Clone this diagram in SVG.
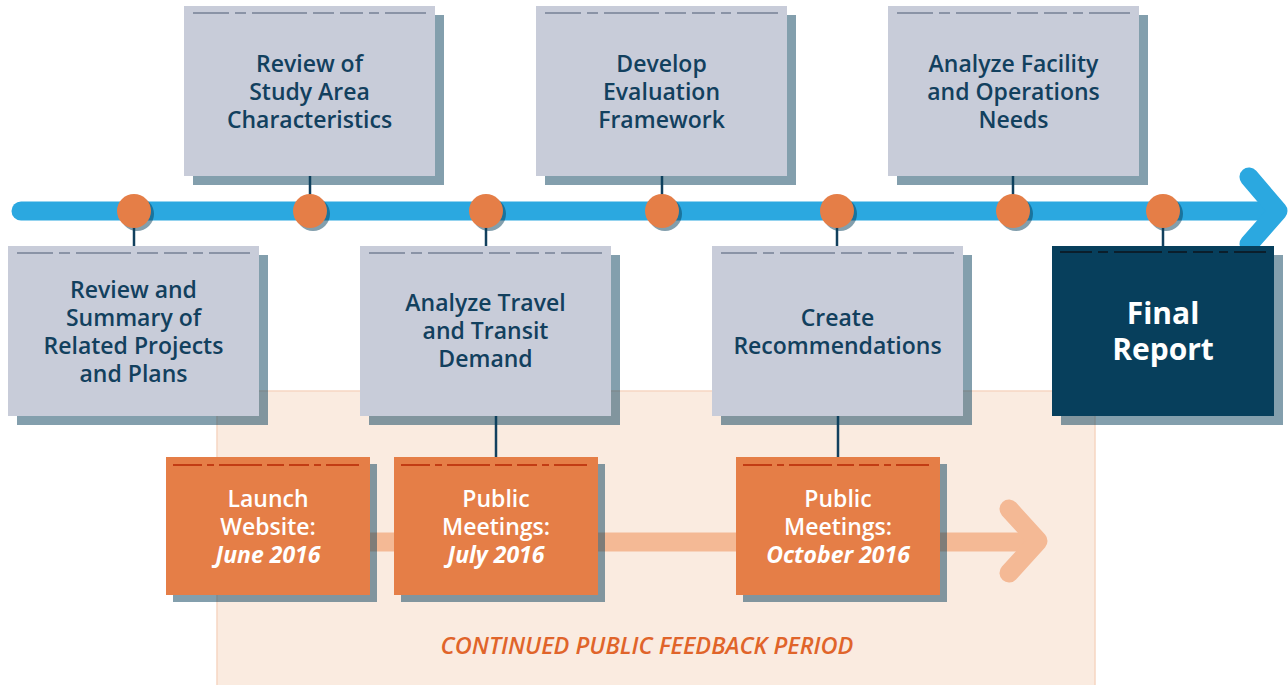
<svg xmlns="http://www.w3.org/2000/svg" width="1288" height="685" viewBox="0 0 1288 685">
<defs>
<style>
.gbox{fill:#C8CCD9}
.shadow{fill:#073F5C;fill-opacity:0.5}
.obox{fill:#E57E47}
.fbox{fill:#073F5C}
.dashg{stroke:#8A93A6;stroke-width:2;stroke-dasharray:36 6 11 6 55 6 21 6 23 6 10 6 41 6;fill:none}
.dashf{stroke:#0B1E2B;stroke-width:2;stroke-dasharray:32 6 10 6 48 6 19 6 20 6 9 6 36 6;fill:none}
.dasho{stroke:#C23C14;stroke-width:2;stroke-dasharray:29 5 7 5 43 5 17 5 20 5 7 5 33 5;fill:none}
.conn{stroke:#12405E;stroke-width:2.5;fill:none}
.dot{fill:#E57E47}
.dotsh{fill:#073F5C;fill-opacity:0.5}
.t{font-family:"Open Sans","Liberation Sans",sans-serif;font-weight:600;font-size:23px;fill:#12405E;text-anchor:middle}
.tw{font-family:"Open Sans","Liberation Sans",sans-serif;font-weight:600;font-size:23px;fill:#FFFFFF;text-anchor:middle}
.bi{font-weight:700;font-style:italic}
.tf{font-family:"Open Sans","Liberation Sans",sans-serif;font-weight:700;font-size:30px;fill:#FFFFFF;text-anchor:middle}
.tp{font-family:"Open Sans","Liberation Sans",sans-serif;font-weight:600;font-style:italic;font-size:23.5px;fill:#E0642A;text-anchor:middle}
</style>
</defs>

<g id="feedback-panel">
<rect x="217" y="391" width="878" height="300" fill="#FAEBE0" stroke="#F6D6C2" stroke-width="1.5"/>
<text class="tp" x="647" y="654">CONTINUED PUBLIC FEEDBACK PERIOD</text>
</g>

<g id="feedback-arrow" stroke="#F4B995" stroke-width="19" fill="none" stroke-linecap="round" stroke-linejoin="round">
<line x1="260" y1="542" x2="1032" y2="542"/>
<polyline points="1009,509 1038,541 1009,573"/>
</g>

<g id="timeline" stroke="#2BA8E0" stroke-width="19" fill="none" stroke-linecap="round" stroke-linejoin="round">
<line x1="21" y1="211" x2="1272" y2="211"/>
<polyline points="1249,177 1278,211 1249,244"/>
</g>

<g id="connectors">
<line class="conn" x1="134" y1="211" x2="134" y2="246"/>
<line class="conn" x1="310" y1="176" x2="310" y2="211"/>
<line class="conn" x1="486" y1="211" x2="486" y2="246"/>
<line class="conn" x1="662" y1="176" x2="662" y2="211"/>
<line class="conn" x1="837" y1="211" x2="837" y2="246"/>
<line class="conn" x1="1013" y1="176" x2="1013" y2="211"/>
<line class="conn" x1="1163" y1="211" x2="1163" y2="246"/>
<line class="conn" x1="496" y1="416" x2="496" y2="457"/>
<line class="conn" x1="838" y1="416" x2="838" y2="457"/>
</g>

<g id="milestones">
<circle class="dotsh" cx="137" cy="214" r="17"/><circle class="dot" cx="134" cy="211" r="17"/>
<circle class="dotsh" cx="313" cy="214" r="17"/><circle class="dot" cx="310" cy="211" r="17"/>
<circle class="dotsh" cx="489" cy="214" r="17"/><circle class="dot" cx="486" cy="211" r="17"/>
<circle class="dotsh" cx="665" cy="214" r="17"/><circle class="dot" cx="662" cy="211" r="17"/>
<circle class="dotsh" cx="840" cy="214" r="17"/><circle class="dot" cx="837" cy="211" r="17"/>
<circle class="dotsh" cx="1016" cy="214" r="17"/><circle class="dot" cx="1013" cy="211" r="17"/>
<circle class="dotsh" cx="1166" cy="214" r="17"/><circle class="dot" cx="1163" cy="211" r="17"/>
</g>

<g id="node-study-area">
<rect class="shadow" x="193" y="15" width="251" height="170"/>
<rect class="gbox" x="184" y="6" width="251" height="170"/>
<line class="dashg" x1="193" y1="13" x2="426" y2="13"/>
<text class="t" x="309.5" y="72">Review of<tspan x="309.5" dy="28">Study Area</tspan><tspan x="309.5" dy="28">Characteristics</tspan></text>
</g>

<g id="node-evaluation">
<rect class="shadow" x="545" y="15" width="251" height="170"/>
<rect class="gbox" x="536" y="6" width="251" height="170"/>
<line class="dashg" x1="545" y1="13" x2="778" y2="13"/>
<text class="t" x="661.5" y="72">Develop<tspan x="661.5" dy="28">Evaluation</tspan><tspan x="661.5" dy="28">Framework</tspan></text>
</g>

<g id="node-facility">
<rect class="shadow" x="897" y="15" width="251" height="170"/>
<rect class="gbox" x="888" y="6" width="251" height="170"/>
<line class="dashg" x1="897" y1="13" x2="1130" y2="13"/>
<text class="t" x="1013.5" y="72">Analyze Facility<tspan x="1013.5" dy="28">and Operations</tspan><tspan x="1013.5" dy="28">Needs</tspan></text>
</g>

<g id="node-related-projects">
<rect class="shadow" x="17" y="255" width="251" height="170"/>
<rect class="gbox" x="8" y="246" width="251" height="170"/>
<line class="dashg" x1="17" y1="253" x2="250" y2="253"/>
<text class="t" x="133.5" y="298">Review and<tspan x="133.5" dy="28">Summary of</tspan><tspan x="133.5" dy="28">Related Projects</tspan><tspan x="133.5" dy="28">and Plans</tspan></text>
</g>

<g id="node-travel-demand">
<rect class="shadow" x="369" y="255" width="251" height="170"/>
<rect class="gbox" x="360" y="246" width="251" height="170"/>
<line class="dashg" x1="369" y1="253" x2="602" y2="253"/>
<text class="t" x="485.5" y="311">Analyze Travel<tspan x="485.5" dy="28">and Transit</tspan><tspan x="485.5" dy="28">Demand</tspan></text>
</g>

<g id="node-recommendations">
<rect class="shadow" x="721" y="255" width="251" height="170"/>
<rect class="gbox" x="712" y="246" width="251" height="170"/>
<line class="dashg" x1="721" y1="253" x2="954" y2="253"/>
<text class="t" x="837.5" y="326">Create<tspan x="837.5" dy="28">Recommendations</tspan></text>
</g>

<g id="node-final-report">
<rect class="shadow" x="1061" y="255" width="222" height="170"/>
<rect class="fbox" x="1052" y="246" width="222" height="170"/>
<line class="dashf" x1="1060" y1="252" x2="1266" y2="252"/>
<text class="tf" x="1163" y="324">Final<tspan x="1163" dy="36">Report</tspan></text>
</g>

<g id="node-launch-website">
<rect class="shadow" x="173" y="464" width="204" height="138"/>
<rect class="obox" x="166" y="457" width="204" height="138"/>
<line class="dasho" x1="173" y1="465" x2="362" y2="465"/>
<text class="tw" x="268" y="507">Launch<tspan x="268" dy="28">Website:</tspan><tspan class="bi" x="268" dy="28">June 2016</tspan></text>
</g>

<g id="node-meetings-july">
<rect class="shadow" x="401" y="464" width="204" height="138"/>
<rect class="obox" x="394" y="457" width="204" height="138"/>
<line class="dasho" x1="401" y1="465" x2="590" y2="465"/>
<text class="tw" x="496" y="507">Public<tspan x="496" dy="28">Meetings:</tspan><tspan class="bi" x="496" dy="28">July 2016</tspan></text>
</g>

<g id="node-meetings-october">
<rect class="shadow" x="743" y="464" width="204" height="138"/>
<rect class="obox" x="736" y="457" width="204" height="138"/>
<line class="dasho" x1="743" y1="465" x2="932" y2="465"/>
<text class="tw" x="838" y="507">Public<tspan x="838" dy="28">Meetings:</tspan><tspan class="bi" x="838" dy="28">October 2016</tspan></text>
</g>
</svg>
